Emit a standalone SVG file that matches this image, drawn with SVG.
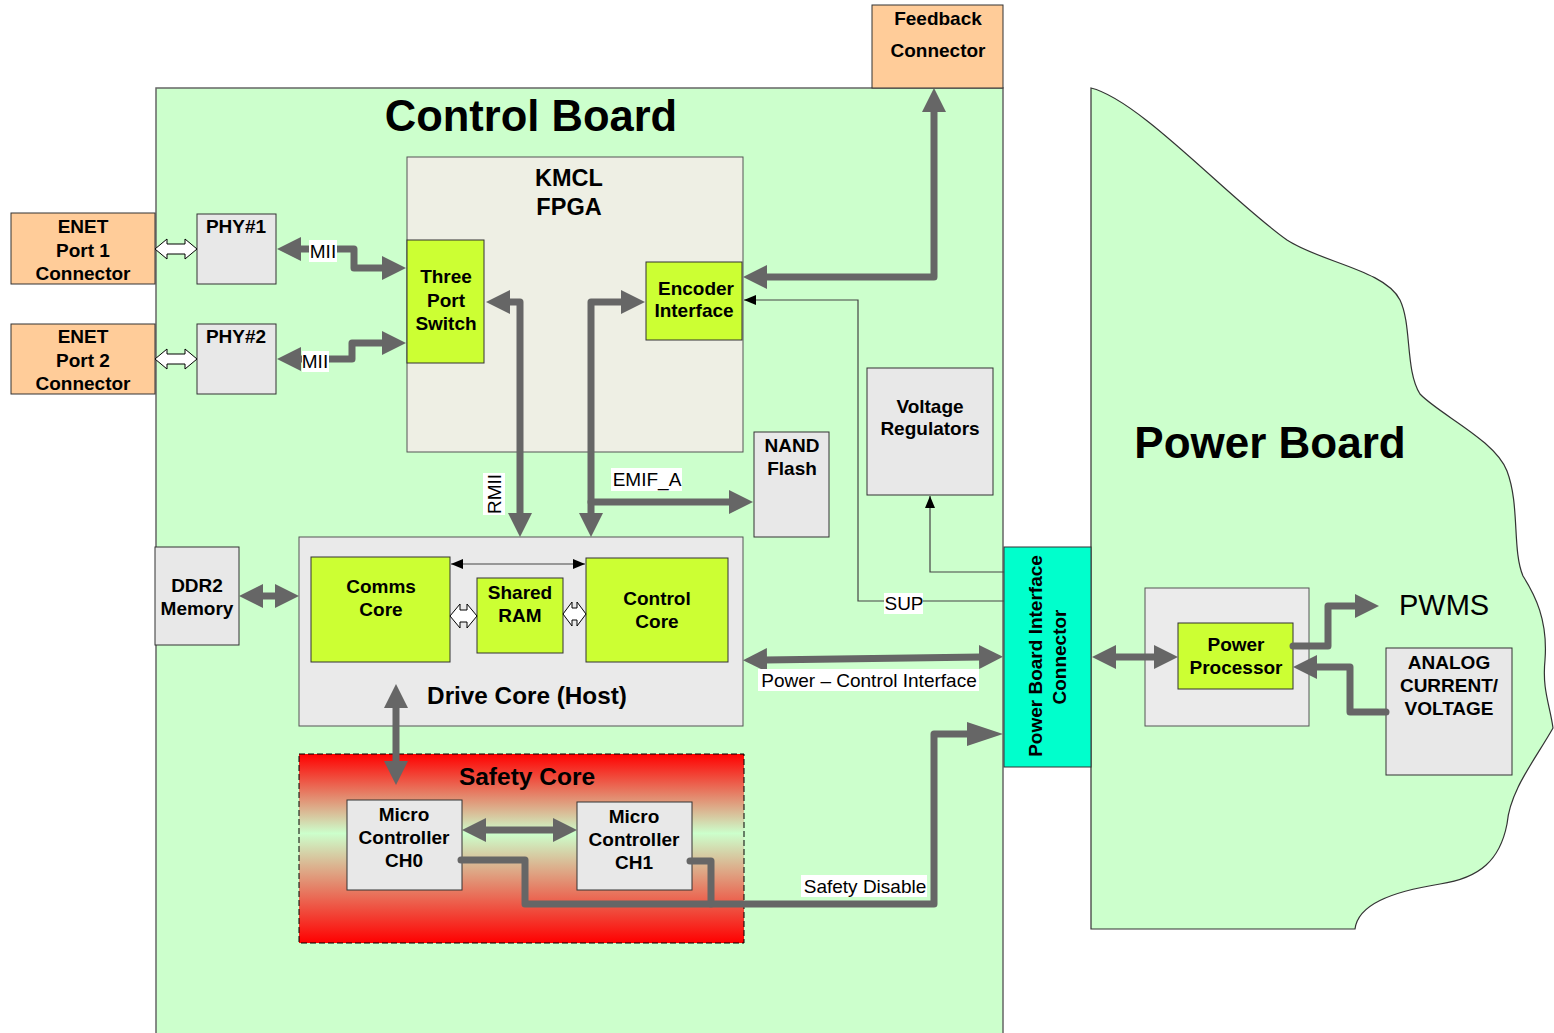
<svg xmlns="http://www.w3.org/2000/svg" width="1554" height="1033" viewBox="0 0 1554 1033">
<defs>
<style>
text{font-family:"Liberation Sans",Arial,sans-serif;fill:#000}
.b{font-weight:bold;font-size:19px;text-anchor:middle}
.r{font-size:19px;text-anchor:middle}
.peach{fill:#ffcc99;stroke:#333;stroke-width:1}
.gray{fill:#e8e8e8;stroke:#333;stroke-width:1}
.lime{fill:#ccff33;stroke:#333;stroke-width:1}
.thick{fill:none;stroke:#666;stroke-width:7;stroke-linejoin:round;stroke-linecap:round}
.thin{fill:none;stroke:#444;stroke-width:1.2}
.hollow{fill:#fff;stroke:#000;stroke-width:1}
.lbl{fill:#fff}
</style>
<marker id="ah" viewBox="0 0 24 24" refX="2" refY="12" markerWidth="24" markerHeight="24" orient="auto-start-reverse" markerUnits="userSpaceOnUse"><path d="M0,0 L24,12 L0,24 z" fill="#666"/></marker>
<marker id="ahl" viewBox="0 0 36 24" refX="2" refY="12" markerWidth="36" markerHeight="24" orient="auto-start-reverse" markerUnits="userSpaceOnUse"><path d="M0,0 L36,12 L0,24 z" fill="#666"/></marker>
<marker id="sm" viewBox="0 0 12 10" refX="12" refY="5" markerWidth="12" markerHeight="10" orient="auto-start-reverse" markerUnits="userSpaceOnUse"><path d="M0,0 L12,5 L0,10 z" fill="#000"/></marker>
<linearGradient id="safe" x1="0" y1="0" x2="0" y2="1">
<stop offset="0" stop-color="#ff0000"/>
<stop offset="0.42" stop-color="#ccffcc"/>
<stop offset="1" stop-color="#ff0000"/>
</linearGradient>
</defs>

<g id="control-board">
<rect x="156" y="88" width="847" height="960" fill="#ccffcc" stroke="#666" stroke-width="1.5"/>
<text x="531" y="131" style="font-weight:bold;font-size:43.5px;text-anchor:middle">Control Board</text>
</g>

<g id="power-board">
<path d="M1091,929 L1091,88 C1140,100 1230,200 1287,240 C1320,262 1385,270 1400,300 C1412,325 1405,370 1420,394 C1440,415 1495,440 1507,471 C1520,505 1512,550 1523,576 C1535,595 1548,620 1545,660 C1542,690 1550,705 1553,728 C1535,760 1510,790 1507,824 C1500,860 1480,878 1440,884 C1390,892 1358,905 1355,929 Z" fill="#ccffcc" stroke="#333" stroke-width="1.2"/>
<text x="1270" y="458" style="font-weight:bold;font-size:44px;text-anchor:middle">Power Board</text>
</g>

<g id="feedback-connector">
<rect class="peach" x="872" y="5" width="131" height="83"/>
<text class="b" x="938" y="25">Feedback</text>
<text class="b" x="938" y="57">Connector</text>
</g>

<g id="enet1">
<rect class="peach" x="11" y="213" width="144" height="71"/>
<text class="b" x="83" y="233">ENET</text>
<text class="b" x="83" y="257">Port 1</text>
<text class="b" x="83" y="280">Connector</text>
</g>
<g id="enet2">
<rect class="peach" x="11" y="324" width="144" height="70"/>
<text class="b" x="83" y="343">ENET</text>
<text class="b" x="83" y="367">Port 2</text>
<text class="b" x="83" y="390">Connector</text>
</g>

<g id="phy1">
<rect class="gray" x="197" y="214" width="79" height="70"/>
<text class="b" x="236" y="233">PHY#1</text>
</g>
<g id="phy2">
<rect class="gray" x="197" y="324" width="79" height="70"/>
<text class="b" x="236" y="343">PHY#2</text>
</g>

<g id="kmcl-fpga">
<rect x="407" y="157" width="336" height="295" fill="#eeefe4" stroke="#555" stroke-width="1"/>
<text x="569" y="186" style="font-weight:bold;font-size:23.5px;text-anchor:middle">KMCL</text>
<text x="569" y="215" style="font-weight:bold;font-size:23.5px;text-anchor:middle">FPGA</text>
</g>

<g id="three-port-switch">
<rect class="lime" x="407" y="240" width="77" height="123"/>
<text class="b" x="446" y="283">Three</text>
<text class="b" x="446" y="307">Port</text>
<text class="b" x="446" y="330">Switch</text>
</g>

<g id="encoder-interface">
<rect class="lime" x="646" y="262" width="96" height="78"/>
<text class="b" x="696" y="295">Encoder</text>
<text class="b" x="694" y="317">Interface</text>
</g>

<g id="nand-flash">
<rect class="gray" x="754" y="432" width="75" height="105"/>
<text class="b" x="792" y="452">NAND</text>
<text class="b" x="792" y="475">Flash</text>
</g>

<g id="voltage-regulators">
<rect class="gray" x="867" y="368" width="126" height="127"/>
<text class="b" x="930" y="413">Voltage</text>
<text class="b" x="930" y="435">Regulators</text>
</g>

<g id="ddr2-memory">
<rect class="gray" x="155" y="547" width="84" height="98"/>
<text class="b" x="197" y="592">DDR2</text>
<text class="b" x="197" y="615">Memory</text>
</g>

<g id="drive-core">
<rect x="299" y="537" width="444" height="189" fill="#eaeaea" stroke="#555" stroke-width="1"/>
<text x="527" y="704" style="font-weight:bold;font-size:24.3px;text-anchor:middle">Drive Core (Host)</text>
</g>

<g id="comms-core">
<rect class="lime" x="311" y="557" width="139" height="105"/>
<text class="b" x="381" y="593">Comms</text>
<text class="b" x="381" y="616">Core</text>
</g>

<g id="shared-ram">
<rect class="lime" x="477" y="578" width="86" height="75"/>
<text class="b" x="520" y="599">Shared</text>
<text class="b" x="520" y="622">RAM</text>
</g>

<g id="control-core">
<rect class="lime" x="586" y="558" width="142" height="104"/>
<text class="b" x="657" y="605">Control</text>
<text class="b" x="657" y="628">Core</text>
</g>

<g id="safety-core">
<rect x="299" y="754" width="445" height="189" fill="url(#safe)" stroke="#000" stroke-width="1" stroke-dasharray="6,3"/>
<text x="527" y="785" style="font-weight:bold;font-size:24.5px;text-anchor:middle">Safety Core</text>
</g>

<g id="mc-ch0">
<rect class="gray" x="347" y="800" width="115" height="90"/>
<text class="b" x="404" y="821">Micro</text>
<text class="b" x="404" y="844">Controller</text>
<text class="b" x="404" y="867">CH0</text>
</g>

<g id="mc-ch1">
<rect class="gray" x="577" y="802" width="115" height="88"/>
<text class="b" x="634" y="823">Micro</text>
<text class="b" x="634" y="846">Controller</text>
<text class="b" x="634" y="869">CH1</text>
</g>

<g id="power-board-interface-connector">
<rect x="1004" y="547" width="87" height="220" fill="#00ffcc" stroke="#333" stroke-width="1"/>
<text class="b" transform="translate(1042,656) rotate(-90)">Power Board Interface</text>
<text class="b" transform="translate(1066,657) rotate(-90)">Connector</text>
</g>

<g id="power-box">
<rect x="1145" y="588" width="164" height="138" fill="#ebebeb" stroke="#555" stroke-width="1"/>
</g>

<g id="power-processor">
<rect class="lime" x="1178" y="623" width="115" height="66"/>
<text class="b" x="1236" y="651">Power</text>
<text class="b" x="1236" y="674">Processor</text>
</g>

<g id="analog">
<rect class="gray" x="1386" y="648" width="126" height="127"/>
<text class="b" x="1449" y="669">ANALOG</text>
<text class="b" x="1449" y="692">CURRENT/</text>
<text class="b" x="1449" y="715">VOLTAGE</text>
</g>

<g id="pwms">
<text x="1399" y="615" style="font-size:29px">PWMS</text>
</g>

<g id="connectors">
<polygon class="hollow" points="155,249 167,239 167,244 185,244 185,239 197,249 185,259 185,254 167,254 167,259"/>
<polygon class="hollow" points="155,359 167,349 167,354 185,354 185,349 197,359 185,369 185,364 167,364 167,369"/>
<polygon class="hollow" points="450,616 460,604 460,610 467,610 467,604 477,616 467,628 467,622 460,622 460,628"/>
<polygon class="hollow" points="563,614 572,602 572,608 577,608 577,602 586,614 577,626 577,620 572,620 572,626"/>

<path class="thick" d="M299,249 H354 V268 H384" marker-start="url(#ah)" marker-end="url(#ah)"/>
<path class="thick" d="M299,359 H352 V343 H384" marker-start="url(#ah)" marker-end="url(#ah)"/>
<path class="thick" d="M508,302 H520 V515" marker-start="url(#ah)" marker-end="url(#ah)"/>
<path class="thick" d="M623,302 H591 V515" marker-start="url(#ah)" marker-end="url(#ah)"/>
<path class="thick" d="M591,502 H731" marker-end="url(#ah)"/>
<path class="thick" d="M765,277 H934 V110" marker-start="url(#ah)" marker-end="url(#ah)"/>
<path class="thick" d="M261,596 H277" marker-start="url(#ah)" marker-end="url(#ah)"/>
<path class="thick" d="M765,660 L981,657" marker-start="url(#ah)" marker-end="url(#ah)"/>
<path class="thick" d="M396,706 V763" marker-start="url(#ah)" marker-end="url(#ah)"/>
<path class="thick" d="M484,830 H555" marker-start="url(#ah)" marker-end="url(#ah)"/>
<path class="thick" d="M690,861 H711 V904"/>
<path class="thick" d="M461,860 H525 V904 H934 V734 H969" marker-end="url(#ahl)"/>
<path class="thick" d="M1114,657 H1156" marker-start="url(#ah)" marker-end="url(#ah)"/>
<path class="thick" d="M1293,646 H1328 V606 H1357" marker-end="url(#ah)"/>
<path class="thick" d="M1386,712 H1350 V667 H1315" marker-end="url(#ah)"/>

<path class="thin" d="M1004,601 H858 V300 H744" marker-end="url(#sm)"/>
<path class="thin" d="M1004,572 H930 V496" marker-end="url(#sm)"/>
<path class="thin" d="M451,564 H585" stroke="#000" marker-start="url(#sm)" marker-end="url(#sm)"/>

<rect class="lbl" x="309" y="240" width="28" height="22"/>
<text class="r" x="323" y="258">MII</text>
<rect class="lbl" x="302" y="351" width="27" height="21"/>
<text class="r" x="315" y="368">MII</text>
<rect class="lbl" x="483" y="473" width="22" height="42"/>
<text class="r" transform="translate(501,494) rotate(-90)">RMII</text>
<rect class="lbl" x="611" y="468" width="71" height="23"/>
<text class="r" x="647" y="486">EMIF_A</text>
<rect class="lbl" x="884" y="593" width="39" height="21"/>
<text class="r" x="904" y="610">SUP</text>
<rect class="lbl" x="758" y="669" width="221" height="22"/>
<text class="r" x="869" y="687">Power – Control Interface</text>
<rect class="lbl" x="801" y="875" width="126" height="22"/>
<text class="r" x="865" y="893">Safety Disable</text>
</g>
</svg>
